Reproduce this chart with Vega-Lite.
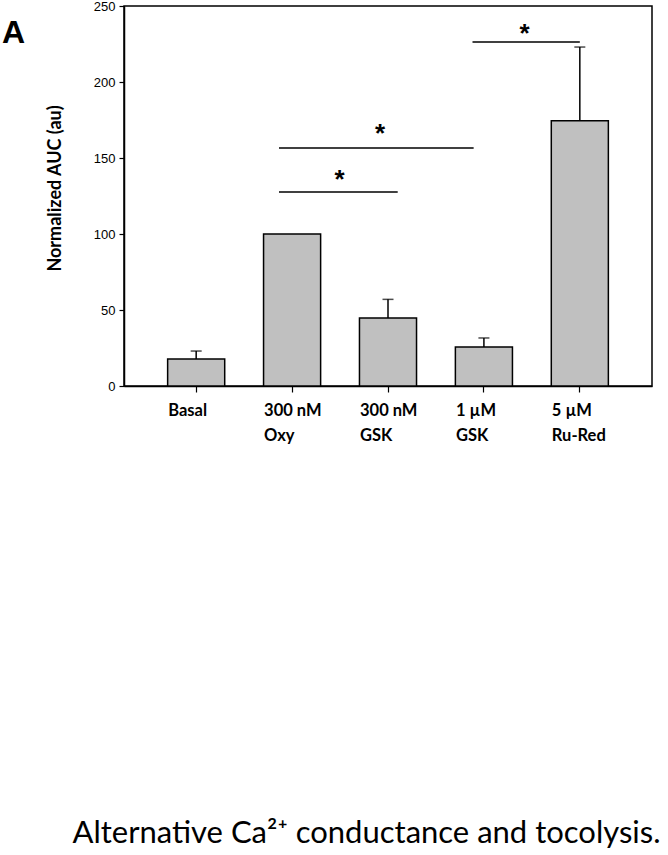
{
  "$schema": "https://vega.github.io/schema/vega-lite/v6.json",
  "width": 528,
  "height": 380,
  "autosize": {"type": "none"},
  "padding": {"left": 124, "top": 6, "right": 16, "bottom": 469},
  "background": "white",
  "config": {
    "view": {"stroke": "black", "strokeWidth": 1.5},
    "axis": {"grid": false, "domainColor": "black", "domainWidth": 1.5, "tickColor": "black", "tickWidth": 1.2, "labelColor": "black", "titleColor": "black"}
  },
  "title": {"text": "A", "anchor": "start", "frame": "group", "font": "Liberation Sans", "fontSize": 32, "fontWeight": "bold", "color": "black", "dx": -122, "dy": 75, "baseline": "alphabetic", "offset": 0},
  "datasets": {
    "bars": [
      {"cond": "Basal", "value": 17.8, "upper": 23.0},
      {"cond": "300 nM|Oxy", "value": 100, "upper": null},
      {"cond": "300 nM|GSK", "value": 44.7, "upper": 57.0},
      {"cond": "1 µM|GSK", "value": 25.7, "upper": 31.6},
      {"cond": "5 µM|Ru-Red", "value": 174.5, "upper": 223.0}
    ],
    "sig": [
      {"id": 1, "from": "300 nM|Oxy", "to": "300 nM|GSK", "y": 127.6, "star": 138.8, "mark": "*"},
      {"id": 2, "from": "300 nM|Oxy", "to": "1 µM|GSK", "y": 156.6, "star": 169.0, "mark": "*"},
      {"id": 3, "from": "1 µM|GSK", "to": "5 µM|Ru-Red", "y": 226.3, "star": 234.9, "mark": "*"}
    ]
  },
  "layer": [
    {
      "data": {"name": "bars"},
      "mark": {"type": "bar", "fill": "#c0c0c0", "stroke": "black", "strokeWidth": 1.5},
      "encoding": {
        "x": {
          "field": "cond", "type": "nominal", "sort": null,
          "scale": {"paddingInner": 0.405, "paddingOuter": 0.455},
          "axis": {
            "labelExpr": "split(datum.label, '|')",
            "labelAngle": 0, "labelAlign": "left", "labelOffset": -28, "labelBaseline": "top",
            "labelPadding": 10, "labelFont": "Lato", "labelFontWeight": "bold", "labelFontSize": 16.5, "labelLineHeight": 25,
            "tickSize": 6,
            "title": "Alternative Ca²⁺ conductance and tocolysis.",
            "titleFont": "Lato", "titleFontSize": 31, "titleFontWeight": "normal",
            "titleX": 242, "titleY": 456, "titleAlign": "center", "titleBaseline": "alphabetic", "titleAnchor": null
          }
        },
        "y": {
          "field": "value", "type": "quantitative",
          "scale": {"domain": [0, 250], "nice": false},
          "axis": {
            "values": [0, 50, 100, 150, 200, 250],
            "labelFont": "Liberation Sans", "labelFontSize": 13, "labelPadding": 4, "tickSize": 5,
            "title": "Normalized AUC (au)",
            "titleFont": "Lato", "titleFontSize": 18, "titleFontWeight": "bold",
            "titleX": -69, "titleY": 182, "titleAlign": "center", "titleBaseline": "middle", "titleAngle": -90
          }
        }
      }
    },
    {
      "data": {"name": "bars"},
      "transform": [{"filter": "datum.upper != null"}],
      "mark": {"type": "rule", "color": "black", "strokeWidth": 1.5},
      "encoding": {
        "x": {"field": "cond", "type": "nominal", "sort": null},
        "y": {"field": "value", "type": "quantitative"},
        "y2": {"field": "upper"}
      }
    },
    {
      "data": {"name": "bars"},
      "transform": [{"filter": "datum.upper != null"}],
      "mark": {"type": "tick", "color": "black", "size": 11, "thickness": 1.5},
      "encoding": {
        "x": {"field": "cond", "type": "nominal", "sort": null},
        "y": {"field": "upper", "type": "quantitative"}
      }
    },
    {
      "data": {"name": "sig"},
      "transform": [{"filter": "datum.id == 1"}],
      "layer": [
        {"mark": {"type": "rule", "color": "black", "strokeWidth": 1.5},
         "encoding": {"x": {"field": "from", "type": "nominal", "sort": null, "bandPosition": 0.27}, "x2": {"field": "to", "bandPosition": 0.67}, "y": {"field": "y", "type": "quantitative"}}},
        {"mark": {"type": "text", "font": "Liberation Sans", "fontSize": 26, "fontWeight": "bold", "color": "black", "baseline": "alphabetic", "dy": 13},
         "encoding": {"x": {"field": "to", "type": "nominal", "sort": null, "bandPosition": -0.35}, "y": {"field": "star", "type": "quantitative"}, "text": {"field": "mark"}}}
      ]
    },
    {
      "data": {"name": "sig"},
      "transform": [{"filter": "datum.id == 2"}],
      "layer": [
        {"mark": {"type": "rule", "color": "black", "strokeWidth": 1.5},
         "encoding": {"x": {"field": "from", "type": "nominal", "sort": null, "bandPosition": 0.27}, "x2": {"field": "to", "bandPosition": 0.32}, "y": {"field": "y", "type": "quantitative"}}},
        {"mark": {"type": "text", "font": "Liberation Sans", "fontSize": 26, "fontWeight": "bold", "color": "black", "baseline": "alphabetic", "dy": 13},
         "encoding": {"x": {"field": "from", "type": "nominal", "sort": null, "bandPosition": 2.04}, "y": {"field": "star", "type": "quantitative"}, "text": {"field": "mark"}}}
      ]
    },
    {
      "data": {"name": "sig"},
      "transform": [{"filter": "datum.id == 3"}],
      "layer": [
        {"mark": {"type": "rule", "color": "black", "strokeWidth": 1.5},
         "encoding": {"x": {"field": "from", "type": "nominal", "sort": null, "bandPosition": 0.30}, "x2": {"field": "to", "bandPosition": 0.50}, "y": {"field": "y", "type": "quantitative"}}},
        {"mark": {"type": "text", "font": "Liberation Sans", "fontSize": 26, "fontWeight": "bold", "color": "black", "baseline": "alphabetic", "dy": 13},
         "encoding": {"x": {"field": "to", "type": "nominal", "sort": null, "bandPosition": -0.47}, "y": {"field": "star", "type": "quantitative"}, "text": {"field": "mark"}}}
      ]
    }
  ]
}
